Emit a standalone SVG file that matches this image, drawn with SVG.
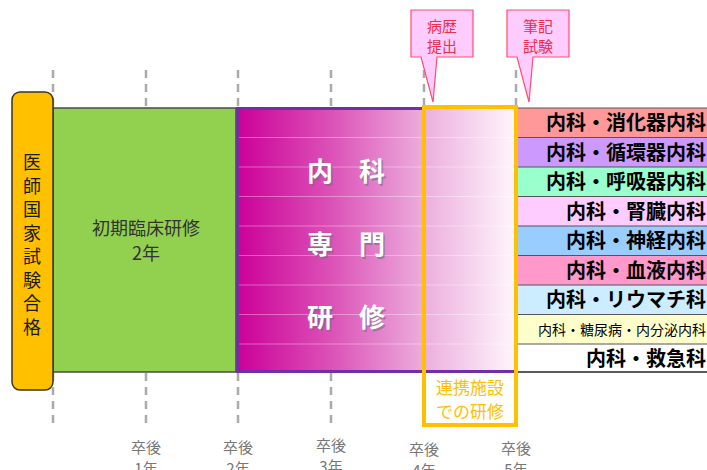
<svg xmlns="http://www.w3.org/2000/svg" width="707" height="470" viewBox="0 0 707 470">
<defs>
<linearGradient id="mg" x1="0" y1="0" x2="1" y2="0">
<stop offset="0" stop-color="#CC0099"/>
<stop offset="0.35" stop-color="#DC55B8"/>
<stop offset="0.68" stop-color="#EDB0DF"/>
<stop offset="1" stop-color="#FFF6FC"/>
</linearGradient>
<style>
.dash{stroke:#AAAAAA;stroke-width:2.5;stroke-dasharray:8 6;fill:none}
.yr{font-family:"Noto Sans CJK JP","Noto Sans",sans-serif;font-size:15px;fill:#777;text-anchor:middle}
.row{font-family:"Noto Sans CJK JP",sans-serif;font-size:20px;font-weight:bold;fill:#000;text-anchor:end}
.sep{stroke:#555;stroke-width:1}
.big{font-family:"Noto Sans CJK JP",sans-serif;font-size:26px;font-weight:bold;text-anchor:middle}
.call{fill:#FFCCFF;stroke:#FF4D6D;stroke-width:1.2}
.callt{font-family:"Noto Sans CJK JP",sans-serif;font-size:15px;fill:#E8304A;text-anchor:middle}
</style>
</defs>
<g id="gridlines">
<line class="dash" x1="53" y1="70" x2="53" y2="107"/>
<line class="dash" x1="146" y1="70" x2="146" y2="107"/>
<line class="dash" x1="238" y1="70" x2="238" y2="107"/>
<line class="dash" x1="331" y1="70" x2="331" y2="107"/>
<line class="dash" x1="424" y1="70" x2="424" y2="107"/>
<line class="dash" x1="516" y1="70" x2="516" y2="107"/>
<line class="dash" x1="53" y1="373" x2="53" y2="428"/>
<line class="dash" x1="146" y1="373" x2="146" y2="428"/>
<line class="dash" x1="238" y1="373" x2="238" y2="428"/>
<line class="dash" x1="331" y1="373" x2="331" y2="428"/>
<line class="dash" x1="424" y1="373" x2="424" y2="428"/>
<line class="dash" x1="516" y1="373" x2="516" y2="428"/>
</g>
<g id="years">
<text class="yr" x="146" y="453">卒後</text><text class="yr" x="146" y="474">1年</text>
<text class="yr" x="238" y="453">卒後</text><text class="yr" x="238" y="474">2年</text>
<text class="yr" x="331" y="451">卒後</text><text class="yr" x="331" y="472">3年</text>
<text class="yr" x="424" y="455">卒後</text><text class="yr" x="424" y="476">4年</text>
<text class="yr" x="516" y="454">卒後</text><text class="yr" x="516" y="475">5年</text>
</g>
<g id="table">
<rect x="517" y="108" width="190" height="29.5" fill="#FF9999"/>
<rect x="517" y="137.5" width="190" height="29.5" fill="#CC99FF"/>
<rect x="517" y="167" width="190" height="29.5" fill="#99FFCC"/>
<rect x="517" y="196.5" width="190" height="29.5" fill="#FFCCFF"/>
<rect x="517" y="226" width="190" height="29.5" fill="#99CCFF"/>
<rect x="517" y="255.5" width="190" height="29.5" fill="#FF99CC"/>
<rect x="517" y="285" width="190" height="29.5" fill="#CCECFF"/>
<rect x="517" y="314.5" width="190" height="29.5" fill="#FFFFCC"/>
<rect x="517" y="344" width="190" height="28" fill="#FFFFFF"/>
<line class="sep" x1="517" y1="108" x2="707" y2="108"/>
<line class="sep" x1="517" y1="137.5" x2="707" y2="137.5"/>
<line class="sep" x1="517" y1="167" x2="707" y2="167"/>
<line class="sep" x1="517" y1="196.5" x2="707" y2="196.5"/>
<line class="sep" x1="517" y1="226" x2="707" y2="226"/>
<line class="sep" x1="517" y1="255.5" x2="707" y2="255.5"/>
<line class="sep" x1="517" y1="285" x2="707" y2="285"/>
<line class="sep" x1="517" y1="314.5" x2="707" y2="314.5"/>
<line class="sep" x1="517" y1="344" x2="707" y2="344"/>
<line x1="517" y1="372" x2="707" y2="372" stroke="#222" stroke-width="1.5"/>
<text class="row" x="706" y="130">内科・消化器内科</text>
<text class="row" x="706" y="159.5">内科・循環器内科</text>
<text class="row" x="706" y="189">内科・呼吸器内科</text>
<text class="row" x="706" y="218.5">内科・腎臓内科</text>
<text class="row" x="706" y="248">内科・神経内科</text>
<text class="row" x="706" y="277.5">内科・血液内科</text>
<text class="row" x="706" y="307">内科・リウマチ科</text>
<text x="706" y="334.5" font-family="Noto Sans CJK JP,sans-serif" font-size="14" fill="#000" text-anchor="end">内科・糖尿病・内分泌内科</text>
<text class="row" x="706" y="366">内科・救急科</text>
</g>
<g id="shokaki">
<rect x="53" y="108" width="183" height="264" fill="#92D050" stroke="#4A4A4A" stroke-width="1.5"/>
<text x="146" y="235" font-family="Noto Sans CJK JP,sans-serif" font-size="18" fill="#333" text-anchor="middle">初期臨床研修</text>
<text x="146" y="260" font-family="Noto Sans CJK JP,sans-serif" font-size="18" fill="#333" text-anchor="middle">2年</text>
</g>
<g id="naika">
<rect x="237.5" y="109" width="278" height="262" fill="url(#mg)"/>
<g stroke="#FFFFFF" stroke-opacity="0.35" stroke-width="1">
<line x1="239" y1="137.5" x2="516" y2="137.5"/>
<line x1="239" y1="167" x2="516" y2="167"/>
<line x1="239" y1="196.5" x2="516" y2="196.5"/>
<line x1="239" y1="226" x2="516" y2="226"/>
<line x1="239" y1="255.5" x2="516" y2="255.5"/>
<line x1="239" y1="285" x2="516" y2="285"/>
<line x1="239" y1="314.5" x2="516" y2="314.5"/>
<line x1="239" y1="344" x2="516" y2="344"/>
</g>
<line x1="237.5" y1="107" x2="237.5" y2="373" stroke="#7030A0" stroke-width="3"/>
<line x1="236" y1="108.5" x2="424" y2="108.5" stroke="#7030A0" stroke-width="3"/>
<line x1="236" y1="371.5" x2="516" y2="371.5" stroke="#7030A0" stroke-width="3"/>
<g class="big" fill="#7A6A78" fill-opacity="0.6">
<text x="347.5" y="182.5">内　科</text>
<text x="347.5" y="255.5">専　門</text>
<text x="347.5" y="328.5">研　修</text>
</g>
<g class="big" fill="#FFFFFF">
<text x="346" y="181">内　科</text>
<text x="346" y="254">専　門</text>
<text x="346" y="327">研　修</text>
</g>
</g>
<g id="renkei">
<rect x="424" y="107" width="92" height="318" fill="none" stroke="#FFC000" stroke-width="4"/>
<text x="470" y="394" font-family="Noto Sans CJK JP,sans-serif" font-size="17" fill="#FFC000" text-anchor="middle">連携施設</text>
<text x="470" y="418" font-family="Noto Sans CJK JP,sans-serif" font-size="17" fill="#FFC000" text-anchor="middle">での研修</text>
</g>
<g id="goukaku">
<rect x="12" y="92" width="41" height="298" rx="8" ry="8" fill="#FFC000" stroke="#3A3520" stroke-width="1.5"/>
<g font-family="Noto Sans CJK JP,sans-serif" font-size="18" fill="#1A1A1A" text-anchor="middle">
<text x="32" y="169">医</text>
<text x="32" y="192.5">師</text>
<text x="32" y="216">国</text>
<text x="32" y="239.5">家</text>
<text x="32" y="263">試</text>
<text x="32" y="286.5">験</text>
<text x="32" y="310">合</text>
<text x="32" y="333.5">格</text>
</g>
</g>
<g id="byoreki">
<path class="call" d="M411,10 H473 V57 H437 L433,102 L421,57 H411 Z"/>
<text class="callt" x="442" y="32">病歴</text>
<text class="callt" x="442" y="52">提出</text>
</g>
<g id="hikki">
<path class="call" d="M507,10 H569 V57 H533 L529,102 L517,57 H507 Z"/>
<text class="callt" x="538" y="32">筆記</text>
<text class="callt" x="538" y="52">試験</text>
</g>
</svg>
